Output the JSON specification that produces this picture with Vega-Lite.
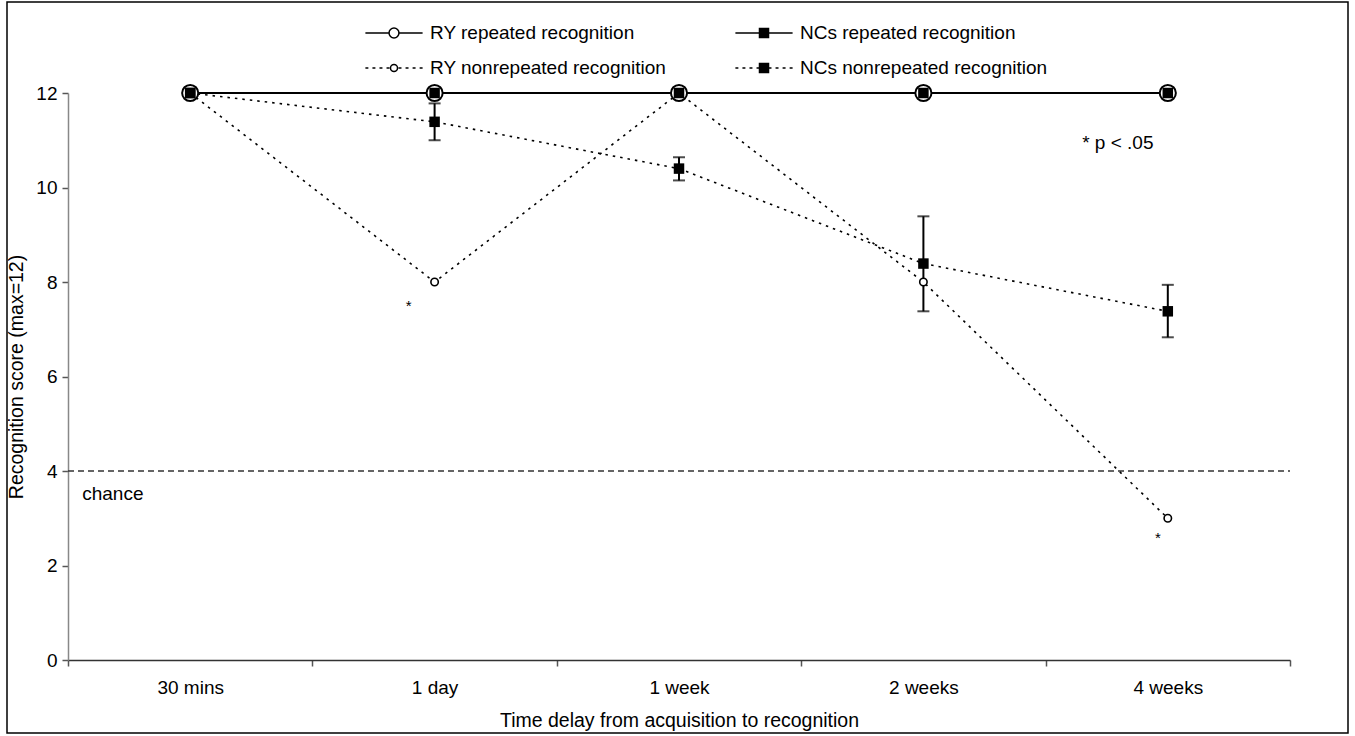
{
  "$schema": "https://vega.github.io/schema/vega-lite/v6.json",
  "width": 1341,
  "height": 731,
  "autosize": {"type": "none"},
  "padding": {"left": 7, "top": 2, "right": 7, "bottom": 3},
  "background": "white",
  "config": {
    "view": {"stroke": "black", "strokeWidth": 1.5},
    "font": "Liberation Sans",
    "axis": {
      "labelFont": "Liberation Sans",
      "titleFont": "Liberation Sans",
      "labelFontSize": 19,
      "titleFontSize": 19.5,
      "labelColor": "black",
      "titleColor": "black",
      "titleFontWeight": "normal",
      "grid": false,
      "domainColor": "#555555",
      "tickColor": "#555555",
      "domainWidth": 1.5,
      "tickWidth": 1.5,
      "tickSize": 6
    },
    "text": {"font": "Liberation Sans", "color": "black"}
  },
  "datasets": {
    "scores": [
      {"delay": "30 mins", "series": "RY repeated recognition", "score": 12},
      {"delay": "1 day", "series": "RY repeated recognition", "score": 12},
      {"delay": "1 week", "series": "RY repeated recognition", "score": 12},
      {"delay": "2 weeks", "series": "RY repeated recognition", "score": 12},
      {"delay": "4 weeks", "series": "RY repeated recognition", "score": 12},
      {"delay": "30 mins", "series": "NCs repeated recognition", "score": 12},
      {"delay": "1 day", "series": "NCs repeated recognition", "score": 12},
      {"delay": "1 week", "series": "NCs repeated recognition", "score": 12},
      {"delay": "2 weeks", "series": "NCs repeated recognition", "score": 12},
      {"delay": "4 weeks", "series": "NCs repeated recognition", "score": 12},
      {"delay": "30 mins", "series": "RY nonrepeated recognition", "score": 12},
      {"delay": "1 day", "series": "RY nonrepeated recognition", "score": 8},
      {"delay": "1 week", "series": "RY nonrepeated recognition", "score": 12},
      {"delay": "2 weeks", "series": "RY nonrepeated recognition", "score": 8},
      {"delay": "4 weeks", "series": "RY nonrepeated recognition", "score": 3},
      {"delay": "30 mins", "series": "NCs nonrepeated recognition", "score": 12, "lo": null, "hi": null},
      {"delay": "1 day", "series": "NCs nonrepeated recognition", "score": 11.39, "lo": 11.0, "hi": 11.78},
      {"delay": "1 week", "series": "NCs nonrepeated recognition", "score": 10.4, "lo": 10.15, "hi": 10.64},
      {"delay": "2 weeks", "series": "NCs nonrepeated recognition", "score": 8.39, "lo": 7.38, "hi": 9.39},
      {"delay": "4 weeks", "series": "NCs nonrepeated recognition", "score": 7.38, "lo": 6.83, "hi": 7.94}
    ]
  },
  "layer": [
    {
      "data": {"values": [{"label": "chance", "level": 4}]},
      "mark": {"type": "rule", "strokeDash": [6, 4], "color": "#333333", "strokeWidth": 1.3},
      "encoding": {
        "x": {"datum": 0, "type": "quantitative", "scale": {"domain": [0, 5], "range": [61, 1283]}, "axis": null},
        "x2": {"datum": 5},
        "y": {"field": "level", "type": "quantitative", "scale": {"domain": [0, 12], "range": [658, 91], "nice": false, "zero": true}}
      }
    },
    {
      "data": {"name": "scores"},
      "encoding": {
        "x": {
          "field": "delay",
          "type": "nominal",
          "sort": ["30 mins", "1 day", "1 week", "2 weeks", "4 weeks"],
          "scale": {"type": "band", "domain": ["30 mins", "1 day", "1 week", "2 weeks", "4 weeks"], "range": [61, 1283], "paddingInner": 0, "paddingOuter": 0},
          "axis": {
            "orient": "bottom",
            "offset": -73,
            "tickBand": "extent",
            "labelAngle": 0,
            "labelPadding": 12,
            "titlePadding": 14,
            "domainColor": "#333333",
            "title": "Time delay from acquisition to recognition"
          }
        },
        "y": {
          "field": "score",
          "type": "quantitative",
          "scale": {"domain": [0, 12], "range": [658, 91], "nice": false, "zero": true},
          "axis": {
            "orient": "left",
            "offset": -61,
            "values": [0, 2, 4, 6, 8, 10, 12],
            "format": "d",
            "labelPadding": 5,
            "titlePadding": 9,
            "domainColor": "#888888",
            "title": "Recognition score (max=12)"
          }
        }
      },
      "layer": [
        {
          "transform": [{"filter": {"field": "series", "oneOf": ["RY repeated recognition", "NCs repeated recognition"]}}],
          "mark": {"type": "line", "color": "black", "strokeWidth": 2},
          "encoding": {"detail": {"field": "series"}}
        },
        {
          "transform": [{"filter": {"field": "series", "oneOf": ["RY nonrepeated recognition", "NCs nonrepeated recognition"]}}],
          "mark": {"type": "line", "color": "black", "strokeWidth": 1.6, "strokeDash": [2.5, 5]},
          "encoding": {"detail": {"field": "series"}}
        },
        {
          "transform": [{"filter": "isValid(datum.lo)"}],
          "mark": {"type": "rule", "color": "black", "strokeWidth": 2},
          "encoding": {"y": {"field": "lo", "type": "quantitative"}, "y2": {"field": "hi"}}
        },
        {
          "transform": [{"filter": "isValid(datum.lo)"}],
          "mark": {"type": "tick", "color": "black", "size": 12, "thickness": 2},
          "encoding": {"y": {"field": "lo", "type": "quantitative"}}
        },
        {
          "transform": [{"filter": "isValid(datum.hi)"}],
          "mark": {"type": "tick", "color": "black", "size": 12, "thickness": 2},
          "encoding": {"y": {"field": "hi", "type": "quantitative"}}
        },
        {
          "transform": [{"filter": {"field": "series", "equal": "RY repeated recognition"}}],
          "mark": {"type": "point", "shape": "circle", "size": 260, "filled": true, "fill": "white", "stroke": "black", "strokeWidth": 2, "opacity": 1}
        },
        {
          "transform": [{"filter": {"field": "series", "equal": "RY nonrepeated recognition"}}],
          "mark": {"type": "point", "shape": "circle", "size": 55, "filled": true, "fill": "white", "stroke": "black", "strokeWidth": 1.6, "opacity": 1}
        },
        {
          "transform": [{"filter": {"field": "series", "equal": "NCs repeated recognition"}}],
          "mark": {"type": "point", "shape": "square", "size": 110, "filled": true, "fill": "black", "opacity": 1}
        },
        {
          "transform": [{"filter": {"field": "series", "equal": "NCs nonrepeated recognition"}}],
          "mark": {"type": "point", "shape": "square", "size": 110, "filled": true, "fill": "black", "opacity": 1}
        },
        {
          "transform": [{"filter": "false"}],
          "mark": {"type": "point", "strokeWidth": 1.5, "opacity": 1},
          "encoding": {
            "shape": {
              "field": "series",
              "type": "nominal",
              "scale": {
                "domain": ["RY repeated recognition", "RY nonrepeated recognition", "NCs repeated recognition", "NCs nonrepeated recognition"],
                "range": [
                  "M-2.6,0H-0.45M0.45,0H2.6M0.45,0A0.45,0.45,0,1,1,-0.45,0A0.45,0.45,0,1,1,0.45,0Z",
                  "M-2.6,0H-2.33M-1.96,0H-1.69M-1.32,0H-1.05M-0.68,0H-0.41M0.41,0H0.68M1.05,0H1.32M1.69,0H1.96M2.33,0H2.6M0.32,0A0.32,0.32,0,1,1,-0.32,0A0.32,0.32,0,1,1,0.32,0Z",
                  "M-2.6,0H2.6M-0.41,-0.41H0.41V0.41H-0.41Z",
                  "M-2.6,0H-2.33M-1.96,0H-1.69M-1.32,0H-1.05M-0.68,0H-0.41M0.41,0H0.68M1.05,0H1.32M1.69,0H1.96M2.33,0H2.6M-0.41,-0.41H0.41V0.41H-0.41Z"
                ]
              },
              "legend": {
                "title": null,
                "orient": "none",
                "legendX": 375,
                "legendY": 19,
                "columns": 2,
                "columnPadding": 65,
                "rowPadding": 13,
                "symbolSize": 484,
                "symbolStrokeWidth": 1.5,
                "symbolStrokeColor": "black",
                "labelFontSize": 19,
                "labelFont": "Liberation Sans",
                "labelColor": "black",
                "labelOffset": 24,
                "labelLimit": 400
              }
            },
            "fill": {
              "field": "series",
              "type": "nominal",
              "scale": {
                "domain": ["RY repeated recognition", "RY nonrepeated recognition", "NCs repeated recognition", "NCs nonrepeated recognition"],
                "range": ["white", "white", "black", "black"]
              }
            },
            "stroke": {
              "field": "series",
              "type": "nominal",
              "scale": {
                "domain": ["RY repeated recognition", "RY nonrepeated recognition", "NCs repeated recognition", "NCs nonrepeated recognition"],
                "range": ["black", "black", "black", "black"]
              }
            }
          }
        },
        {
          "data": {"values": [{"delay": "1 day", "score": 7.5, "note": "*"}]},
          "mark": {"type": "text", "dx": -26, "fontSize": 15, "baseline": "middle"},
          "encoding": {"text": {"field": "note"}}
        },
        {
          "data": {"values": [{"delay": "4 weeks", "score": 2.58, "note": "*"}]},
          "mark": {"type": "text", "dx": -10, "fontSize": 15, "baseline": "middle"},
          "encoding": {"text": {"field": "note"}}
        },
        {
          "data": {"values": [{"delay": "4 weeks", "score": 10.94, "note": "* p < .05"}]},
          "mark": {"type": "text", "dx": -50, "fontSize": 19, "baseline": "middle", "align": "center"},
          "encoding": {"text": {"field": "note"}}
        },
        {
          "data": {"values": [{"delay": "30 mins", "score": 3.52, "note": "chance"}]},
          "mark": {"type": "text", "dx": -108, "fontSize": 19, "baseline": "middle", "align": "left"},
          "encoding": {"text": {"field": "note"}}
        }
      ]
    }
  ],
  "resolve": {"scale": {"x": "independent"}}
}
